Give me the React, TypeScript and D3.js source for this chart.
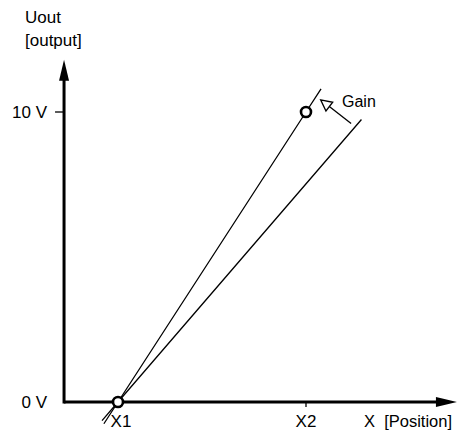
import React from "react";
import * as d3 from "d3";

const W = 461;
const H = 431;

// data (X1 = 0, X2 = 1 in position units; output in volts)
const xTickValues = [1];
const xTickLabels = ["X2"];
const originLabel = "X1";
const yTickValues = [10];
const yTickLabels = ["10 V"];
const yZeroLabel = "0 V";
const yTitle = ["Uout", "[output]"];
const xTitle = "X  [Position]";
const gainLabel = "Gain";

// characteristic lines: [x, y] endpoints
const line1 = [[-0.075, -0.75], [0, 0], [1, 10], [1.08, 10.8]];
const line2 = [[-0.085, -0.64], [0, 0], [1.295, 9.74]];
const points = [[0, 0], [1, 10]];
const gainArrow = [[1.24, 9.6], [1.078, 10.42]];
const axisMin = [-0.287, 0];
const axisMax = [1.803, 11.8];

export default function App() {
  const x = d3.scaleLinear().domain([0, 1]).range([118, 306]);
  const y = d3.scaleLinear().domain([0, 10]).range([402, 112]);
  const lineGen = d3
    .line<number[]>()
    .x((d) => x(d[0]))
    .y((d) => y(d[1]));

  const ax0 = x(axisMin[0]);
  const ay0 = y(axisMin[1]);
  const axEnd = x(axisMax[0]);
  const ayEnd = y(axisMax[1]);
  const font = "'Liberation Sans', Arial, sans-serif";

  // gain arrow geometry
  const gx1 = x(gainArrow[0][0]);
  const gy1 = y(gainArrow[0][1]);
  const gx2 = x(gainArrow[1][0]);
  const gy2 = y(gainArrow[1][1]);
  const ang = Math.atan2(gy2 - gy1, gx2 - gx1);
  const hl = 11;
  const hw = 5.5;
  const bx = gx2 - hl * Math.cos(ang);
  const by = gy2 - hl * Math.sin(ang);
  const px = -Math.sin(ang);
  const py = Math.cos(ang);
  const headPts = `${gx2},${gy2} ${bx + hw * px},${by + hw * py} ${bx - hw * px},${by - hw * py}`;

  return (
    <svg
      width={W}
      height={H}
      style={{ position: "absolute", left: 0, top: 0, background: "#fff" }}
      fontFamily={font}
    >
      <rect width={W} height={H} fill="#fff" />
      {/* characteristic lines */}
      <path d={lineGen(line1) || ""} fill="none" stroke="#000" strokeWidth={1.3} />
      <path d={lineGen(line2) || ""} fill="none" stroke="#000" strokeWidth={1.3} />

      {/* axes */}
      <line x1={ax0} y1={ay0} x2={axEnd - 16} y2={ay0} stroke="#000" strokeWidth={3} />
      <polygon points={`${axEnd},${ay0} ${axEnd - 21},${ay0 - 5} ${axEnd - 21},${ay0 + 5}`} fill="#000" />
      <line x1={ax0} y1={ay0 + 1.5} x2={ax0} y2={ayEnd + 16} stroke="#000" strokeWidth={3} />
      <polygon points={`${ax0},${ayEnd} ${ax0 - 5},${ayEnd + 21} ${ax0 + 5},${ayEnd + 21}`} fill="#000" />

      {/* y ticks */}
      {yTickValues.map((v, i) => (
        <g key={"yt" + i}>
          <line x1={ax0 - 9} x2={ax0} y1={y(v)} y2={y(v)} stroke="#000" strokeWidth={1.3} />
          <text x={ax0 - 17} y={y(v) + 6} textAnchor="end" fontSize={17}>
            {yTickLabels[i]}
          </text>
        </g>
      ))}
      <text x={ax0 - 17} y={ay0 + 6} textAnchor="end" fontSize={17}>
        {yZeroLabel}
      </text>

      {/* x ticks */}
      {xTickValues.map((v, i) => (
        <g key={"xt" + i}>
          <line x1={x(v)} x2={x(v)} y1={ay0} y2={ay0 + 5} stroke="#000" strokeWidth={1.3} />
          <text x={x(v)} y={ay0 + 25} textAnchor="middle" fontSize={17}>
            {xTickLabels[i]}
          </text>
        </g>
      ))}
      <text x={x(0) + 3} y={ay0 + 25} textAnchor="middle" fontSize={17}>
        {originLabel}
      </text>
      <text x={364} y={ay0 + 25} fontSize={16.5} style={{ whiteSpace: "pre" }}>
        {xTitle}
      </text>

      {/* y title */}
      <text x={25} y={23} fontSize={17}>
        {yTitle[0]}
      </text>
      <text x={25} y={46} fontSize={17}>
        {yTitle[1]}
      </text>

      {/* points */}
      {points.map((p, i) => (
        <circle key={"p" + i} cx={x(p[0])} cy={y(p[1])} r={5} fill="#fff" stroke="#000" strokeWidth={2.6} />
      ))}

      {/* gain arrow */}
      <line x1={gx1} y1={gy1} x2={bx} y2={by} stroke="#000" strokeWidth={1.3} />
      <polygon points={headPts} fill="#fff" stroke="#000" strokeWidth={1.3} />
      <text x={342} y={107} fontSize={16}>
        {gainLabel}
      </text>
    </svg>
  );
}
